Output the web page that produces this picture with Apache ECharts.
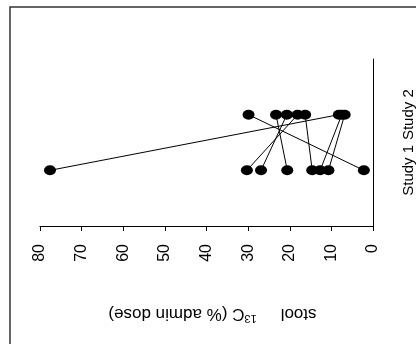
<!DOCTYPE html>
<html>
<head>
<meta charset="utf-8">
<script src="https://cdn.jsdelivr.net/npm/echarts@6/dist/echarts.min.js"></script>
<style>
  html, body { margin: 0; padding: 0; background: #fff; }
  #chart { width: 416px; height: 344px; }
</style>
</head>
<body>
<div id="chart"></div>
<script>
  // paired values, one entry per subject
  var studies = ['Study 1', 'Study 2'];
  var study1 = [77.6, 2.2, 30.3, 26.9, 20.6, 14.6, 12.7, 10.7];
  var study2 = [8.2, 29.9, 18.1, 20.7, 23.3, 16.3, 7.5, 6.8];
  var doseTicks = [0, 10, 20, 30, 40, 50, 60, 70, 80];

  var font = "'Liberation Sans', Arial, sans-serif";

  var series = [];
  for (var i = 0; i < study1.length; i++) {
    series.push({
      type: 'line',
      data: [[study1[i], 1], [study2[i], 2]],
      symbol: 'circle',
      symbolSize: [12, 10],
      itemStyle: { color: '#000' },
      lineStyle: { color: '#000', width: 1 },
      animation: false
    });
  }

  var option = {
    animation: false,
    grid: { left: 40, right: 43, top: 59, bottom: 118 },
    graphic: [{
      type: 'rect',
      shape: { x: 10, y: 7, width: 480, height: 400 },
      style: { fill: 'none', stroke: '#333', lineWidth: 1.5 },
      silent: true
    }],
    xAxis: {
      type: 'value',
      inverse: true,
      min: doseTicks[0],
      max: doseTicks[doseTicks.length - 1],
      interval: 10,
      offset: 14,
      axisLine: { show: true, lineStyle: { color: '#000', width: 1 } },
      axisTick: { show: true, length: 5, lineStyle: { color: '#000' } },
      splitLine: { show: false },
      axisLabel: { rotate: 90, margin: 4, fontSize: 16, color: '#000', fontFamily: font },
      name: '{a|stool}{b|13}{c|C (% admin dose)}',
      nameLocation: 'middle',
      nameRotate: 180,
      nameGap: 64,
      nameTextStyle: {
        fontSize: 17, color: '#000', fontFamily: font,
        rich: {
          a: { fontSize: 17, fontFamily: font, color: '#000', padding: [0, 24, 0, 0] },
          b: { fontSize: 11, fontFamily: font, color: '#000', verticalAlign: 'top', lineHeight: 20 },
          c: { fontSize: 17, fontFamily: font, color: '#000', padding: [0, 12, 0, 0] }
        }
      }
    },
    yAxis: {
      type: 'value',
      position: 'right',
      min: 0,
      max: studies.length + 1,
      interval: 1,
      offset: 18,
      axisLine: { show: true, lineStyle: { color: '#000', width: 1 } },
      axisTick: { show: false },
      splitLine: { show: false },
      axisLabel: {
        rotate: 90, margin: 10, fontSize: 15, color: '#000', fontFamily: font,
        formatter: function (v) { return studies[v - 1] || ''; }
      }
    },
    series: series
  };

  var chart = echarts.init(document.getElementById('chart'));
  chart.setOption(option);
</script>
</body>
</html>
